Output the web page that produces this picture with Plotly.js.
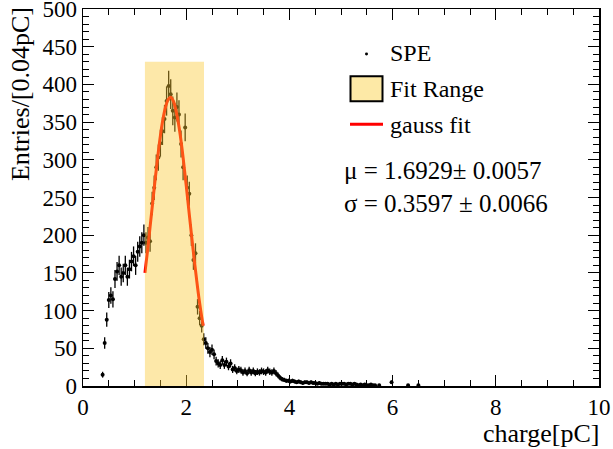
<!DOCTYPE html>
<html>
<head>
<meta charset="utf-8">
<script src="https://cdn.plot.ly/plotly-3.0.1.min.js"></script>
<style>html,body{margin:0;padding:0;background:#fff;}#chart{width:613px;height:449px;}</style>
</head>
<body>
<div id="chart"></div>
<script>
// Histogram: bin width 0.04 pC, first plotted bin centre 0.38 pC (null = empty bin)
var binStart = 0.38;
var binWidth = 0.04;
var counts = [
  15, 57, 88, 114, 120, 115, 142, 152, 160, 145,
  150, 160, 145, 155, 165, 172, 160, 178, 185, 190,
  200, 190, 197, 192, 242, 263, 290, 303, 322, 338,
  354, 378, 398, 387, 365, 356, 370, 360, 321, 290,
  343, 263, 255, 200, 167, 176, 105, 90, 80, 62,
  57, 50, 45, 48, 42, 33, 30, 28, 34, 28,
  32, 26, 30, 22, 24, 20, 22, 21, 18, 20,
  17, 21, 18, 20, 17, 19, 18, 20, 19, 18,
  21, 19, 18, 20, 17, 14, 11, 9, 8, 7,
  7, 6, 7, 6, 5, 6, 5, 4, 5, 5,
  4, 5, 4, 4, 3, 4, 3, 3, 3, 3,
  2, 3, 2, 3, 2, 3, 3, 3, 2, 3,
  3, 2, 3, 2, 1, 2, 1, 2, 1, 1,
  2, 1, 1, null, 1, null, null, null, null, null,
  5, null, null, null, null, null, null, null, 1, null,
  null, null, null, 1
];

// Gaussian fit curve
var fitX = [1.20, 1.25, 1.30, 1.35, 1.40, 1.45, 1.50, 1.55, 1.60, 1.65, 1.70, 1.75,
            1.80, 1.85, 1.90, 1.95, 2.00, 2.05, 2.10, 2.15, 2.20, 2.25, 2.30, 2.33];
var fitY = [150, 179, 211, 243, 275, 305, 332, 354, 370, 380, 383, 378,
            366, 348, 325, 297, 266, 234, 202, 171, 142, 115, 92, 80];

// Fit range band
var fitRange = [1.2, 2.345];
var fitRangeTop = 430;

var legendLabels = ["SPE", "Fit Range", "gauss fit"];
var muText = "\u03bc = 1.6929\u00b1 0.0057";
var sigmaText = "\u03c3 = 0.3597 \u00b1 0.0066";
var xTitle = "charge[pC]";
var yTitle = "Entries/[0.04pC]";

var FONT = "'Times New Roman', 'Liberation Serif', serif";

var traces = [
  {
    type: "scatter", mode: "markers",
    x0: binStart, dx: binWidth, y: counts,
    marker: {color: "black", size: 4},
    error_y: {type: "sqrt", visible: true, color: "black", thickness: 1.3, width: 0},
    error_x: {type: "constant", value: binWidth / 2, visible: true, color: "black", thickness: 1.3, width: 0},
    showlegend: false, hoverinfo: "skip"
  },
  {
    type: "scatter", mode: "lines",
    x: fitX, y: fitY,
    line: {color: "#ff0000", width: 3, shape: "spline"},
    showlegend: false, hoverinfo: "skip"
  }
];

// paper coordinate helpers (plot area: 83..599 px wide, 8..386 px tall)
function px(v) { return (v - 83) / 516; }
function py(v) { return (386 - v) / 378; }

var shapes = [
  {type: "rect", xref: "x", yref: "y", x0: fitRange[0], x1: fitRange[1], y0: 0, y1: fitRangeTop,
   fillcolor: "rgb(250,200,50)", opacity: 0.42, line: {width: 0}, layer: "above"},
  // legend symbols
  {type: "circle", xref: "paper", yref: "paper", x0: px(365), x1: px(368), y0: py(51.5), y1: py(54.5),
   fillcolor: "black", line: {width: 0}},
  {type: "rect", xref: "paper", yref: "paper", x0: px(350.5), x1: px(382.5), y0: py(75.5), y1: py(100.5),
   fillcolor: "#fde9a6", line: {color: "black", width: 2}},
  {type: "line", xref: "paper", yref: "paper", x0: px(350), x1: px(383), y0: py(123.5), y1: py(123.5),
   line: {color: "#ff0000", width: 3}}
];

function ann(text, x, y, size, xanchor, extra) {
  var a = {text: text, xref: "paper", yref: "paper", x: x, y: y, showarrow: false,
           xanchor: xanchor || "left", yanchor: "middle",
           font: {family: FONT, size: size, color: "black"}};
  if (extra) { for (var k in extra) a[k] = extra[k]; }
  return a;
}

var annotations = [
  ann(legendLabels[0], px(388), py(52), 24),
  ann(legendLabels[1], px(388), py(88), 24),
  ann(legendLabels[2], px(388), py(124), 24),
  ann(muText, px(342), py(170), 25),
  ann(sigmaText, px(342), py(203), 25),
  ann(xTitle, px(601), py(434), 26, "right"),
  ann(yTitle, px(20), py(4), 26, "center", {textangle: -90, yanchor: "top"})
];

var axisCommon = {
  ticks: "inside", ticklen: 11, tickwidth: 1, tickcolor: "black",
  showline: true, linecolor: "black", linewidth: 1.5, mirror: "allticks",
  showgrid: false, zeroline: false, ticklabeloverflow: "allow",
  tickfont: {family: FONT, size: 23, color: "black"}
};

var layout = {
  width: 613, height: 449,
  margin: {l: 83, r: 14, t: 9, b: 63, pad: 0},
  font: {family: FONT, color: "black"},
  paper_bgcolor: "white", plot_bgcolor: "white",
  showlegend: false,
  xaxis: Object.assign({}, axisCommon, {range: [0, 10], tick0: 0, dtick: 2,
    minor: {dtick: 0.5, ticklen: 6, ticks: "inside", tickcolor: "black", showgrid: false}}),
  yaxis: Object.assign({}, axisCommon, {range: [0, 500], tick0: 0, dtick: 50,
    minor: {dtick: 10, ticklen: 6, ticks: "inside", tickcolor: "black", showgrid: false}}),
  shapes: shapes,
  annotations: annotations
};

Plotly.newPlot("chart", traces, layout, {staticPlot: true, displayModeBar: false});
</script>
</body>
</html>
